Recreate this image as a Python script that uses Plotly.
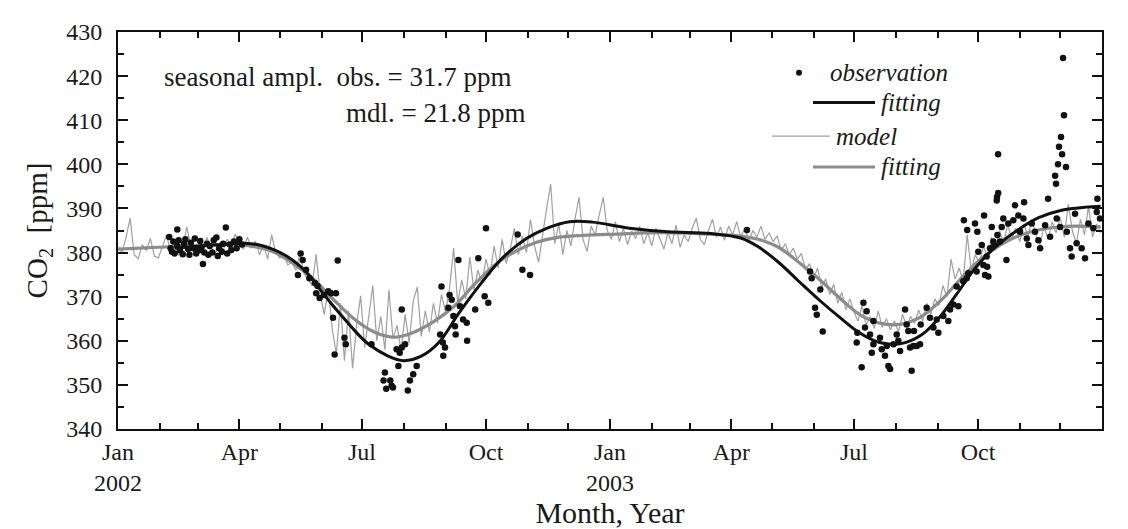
import pandas as pd
import plotly.graph_objects as go

BASE = pd.Timestamp("2002-01-01")

# ---------------- data (days since 2002-01-01, CO2 ppm) ----------------
model_vals = [
    # Jan 2002
    381.2, 380.0, 383.5, 387.8, 379.5, 378.6, 381.8, 380.4, 383.2, 379.2, 378.8,
    # Feb
    381.6, 384.0, 380.2, 382.8, 379.4, 381.0, 385.8, 381.5, 380.0,
    # Mar
    382.5, 380.8, 383.4, 381.2, 379.6, 382.0, 380.5, 383.0, 381.4, 384.2, 382.0,
    # Apr
    380.8, 383.5, 381.0, 382.6, 379.5, 381.8, 378.5, 384.0, 380.0, 378.8,
    # May
    379.5, 377.2, 377.8, 376.0, 379.8, 375.2, 374.0, 372.5, 379.6, 370.5,
    # Jun
    366.0, 371.8, 362.5, 357.0, 368.5, 355.5, 366.8, 353.8, 363.5, 370.2,
    # Jul
    358.5, 366.0, 372.5, 360.0, 365.5, 358.0, 371.5, 360.5, 363.5, 357.8,
    # Aug
    366.0, 359.5, 369.0, 372.2, 361.0, 366.8, 362.0, 368.5, 364.0, 370.5,
    # Sep
    366.5, 372.0, 381.0, 368.5, 373.8, 369.5, 379.0, 371.5, 376.0, 373.0,
    # Oct
    378.5, 374.8, 381.5, 376.5, 383.0, 377.5, 380.8, 385.5, 379.5, 383.8,
    # Nov
    380.0, 387.5, 381.5, 377.8, 384.5, 390.0, 395.5, 382.0, 386.5, 379.5,
    # Dec
    385.0, 381.5, 387.5, 392.5, 383.0, 380.2, 386.0, 384.0, 388.5, 392.5, 385.0,
    # Jan 2003
    383.0, 387.0, 382.5, 385.5, 381.8, 384.8, 383.2, 386.0, 382.0, 384.5,
    # Feb
    381.5, 385.5, 383.0, 380.8, 384.5, 382.0, 386.2, 381.2, 384.0,
    # Mar
    382.5, 385.5, 387.8, 383.0, 381.8, 385.0, 387.5, 383.5, 385.8, 382.8, 386.0,
    # Apr
    384.0, 387.0, 383.5, 385.5, 382.5, 385.0, 383.5, 386.0, 383.0, 384.5,
    # May
    382.5, 383.8, 380.5, 382.0, 379.5, 381.0, 378.5, 379.8, 376.0, 377.5,
    # Jun
    374.0, 376.5, 372.0, 374.0, 370.5, 372.8, 368.5, 371.0, 367.0, 369.5,
    # Jul
    366.5, 364.5, 368.0, 363.5, 365.5, 362.8, 366.8, 363.0, 365.0, 362.5,
    # Aug
    364.5, 362.0, 366.0, 363.2, 365.5, 364.0, 367.0, 364.5, 368.5, 366.0, 369.5,
    # Sep
    368.0, 372.5, 370.0, 378.5, 374.0, 376.5, 373.5, 384.0, 376.0, 379.5,
    # Oct
    377.5, 381.5, 379.0, 383.5, 380.5, 385.0, 382.0, 386.5, 383.0, 385.5,
    # Nov
    382.5, 386.5, 383.5, 387.5, 384.0, 381.8, 386.0, 383.0, 387.0, 384.5,
    # Dec
    388.0, 383.5, 391.0, 385.0, 382.0, 387.5, 384.0, 390.5, 383.5, 386.5, 384.5,
]
model_days = list(range(0, 3 * len(model_vals), 3))

obs_fit_days = [42, 61, 80, 94, 105, 116, 125, 134, 142, 149, 158, 169, 178, 186,
                200, 212, 225, 238, 253, 268, 285, 303, 318, 335, 352, 372, 383,
                408, 440, 462, 475, 490, 505, 520, 535, 550, 565, 580, 596, 610,
                622, 636, 650, 667, 683, 700, 718, 729]
obs_fit_vals = [381.0, 381.5, 381.9, 382.1, 381.7, 380.6, 379.2, 377.2, 374.8, 372.0,
                368.5, 364.6, 361.5, 359.2, 356.6, 355.5, 356.5, 359.6, 366.3, 372.5,
                378.7, 383.2, 385.5, 387.0, 386.9, 385.9, 385.4, 384.7, 384.3, 383.3,
                381.3, 377.8, 373.5, 369.3, 365.4, 361.8, 359.6, 359.3, 361.3, 365.5,
                370.5, 376.5, 381.0, 385.0, 387.9, 389.6, 390.3, 390.5]

mdl_fit_days = [0, 30, 55, 80, 100, 115, 130, 145, 160, 175, 190, 205, 220, 235,
                250, 265, 280, 295, 310, 325, 345, 370, 400, 430, 460, 475, 490,
                505, 520, 535, 550, 565, 580, 595, 610, 625, 640, 655, 670, 690,
                710, 729]
mdl_fit_vals = [380.8, 381.2, 381.6, 381.8, 381.4, 380.2, 377.5, 374.0, 369.3, 365.0,
                362.0, 360.8, 362.0, 364.5, 368.0, 373.0, 377.3, 380.3, 382.3, 383.4,
                383.9, 384.2, 384.5, 384.3, 383.8, 383.0, 381.2, 377.8, 374.0, 369.8,
                366.0, 364.0, 363.7, 365.3, 369.0, 374.0, 378.5, 381.8, 384.0, 385.5,
                386.0, 385.8]

obs_days = [
    # Feb-Apr 2002
    38, 39, 40, 41, 42, 44, 44, 45, 46, 48, 49, 50, 52, 53, 54, 56, 57, 58, 60, 61,
    62, 63, 64, 66, 67, 68, 70, 71, 73, 74, 75, 77, 78, 80, 81, 83, 84, 86, 88, 90, 92,
    # May-Jun 2002
    133.5, 135.5, 137, 139.5, 142, 146, 147, 148, 149.6, 153, 156, 158, 159.5, 160.7,
    161.7, 163, 168, 169,
    # Jul-Nov 2002
    188, 206.7, 210.5, 213, 209, 208, 198, 197, 202, 203, 204, 199, 216.6, 219, 221.6,
    215, 210.5, 240, 241, 242.6, 241.3, 246, 247.6, 248.8, 250, 250.5, 253.7, 256,
    258.7, 259, 265, 272, 274.7, 252.5, 267.3, 273, 296.5, 300, 305.7, 239, 245,
    # Apr 2003
    466.6,
    # Jun-Sep 2003
    513.4, 514.6, 517.1, 518.4, 521, 522.8, 548, 548.5, 553, 555.4, 554.2, 560.4, 557.9,
    560.4, 559.2, 551.7, 565.3, 566.6, 569, 570.3, 571.5, 572.8, 575.3, 577.7, 578.9,
    580.2, 583.9, 585.1, 586.3, 587.6, 590, 592.6, 595, 588.8, 599.9, 602.4, 604.9,
    607.4, 608.6, 612.3, 616, 617.3, 619.7, 623.4, 622.2, 627.1, 629.6, 630.8, 637,
    642, 643.2, 644.4, 646.9, 649.4, 590.5, 595.5,
    # Sep-Dec 2003
    627.5, 630, 635.8, 637.5, 642.5, 648.2, 655.6, 656.8, 660.5, 664.2, 667.9, 671.7,
    669.2, 674.2, 675.4, 677.9, 680.3, 682.8, 684.1, 687.8, 691.5, 696.4, 698.9, 703.9,
    706.3, 707.5, 711.2, 714.9, 717.4, 719.9, 723.6, 726.1, 728.5, 659.1, 644.8, 645.7,
    651.9, 665.5, 672.2, 638.2, 640.8, 649.9, 654.4, 652.4, 652.9, 652.1, 653.0, 690,
    695.2, 695.9, 697.4, 698.1, 699.6, 700.4, 703.3, 701.8, 701.1, 710, 726.6,
]
obs_vals = [
    # Feb-Apr 2002
    383.5, 381.0, 380.2, 382.5, 379.8, 381.5, 385.2, 382.8, 380.5, 379.6, 382.0, 383.0,
    380.8, 379.5, 382.2, 381.0, 383.2, 379.8, 380.5, 382.6, 381.2, 377.4, 380.0, 382.0,
    379.5, 381.5, 380.0, 382.8, 383.4, 379.2, 381.0, 380.2, 382.0, 385.7, 379.8, 381.8,
    380.6, 382.5, 381.0, 383.0, 381.8,
    # May-Jun 2002
    374.9, 379.8, 378.3, 376.1, 374.2, 373.1, 370.8, 372.4, 369.7, 370.4, 371.2, 370.8,
    365.2, 356.9, 370.8, 378.2, 360.7, 359.2,
    # Jul-Nov 2002
    359.2, 358.1, 358.5, 359.2, 357.3, 354.3, 352.8, 351.0, 351.0, 349.8, 349.4, 349.1,
    351.0, 352.4, 354.3, 348.7, 367.1, 372.3, 359.6, 358.5, 356.6, 370.4, 369.3, 365.6,
    363.3, 361.4, 367.8, 364.8, 364.1, 360.0, 367.1, 370.1, 368.6, 378.3, 378.7, 385.5,
    384.1, 376.1, 374.9, 361.4, 367.5,
    # Apr 2003
    385.1,
    # Jun-Sep 2003
    375.7, 374.2, 367.5, 365.9, 371.6, 362.1, 359.6, 361.8, 368.6, 366.7, 363.0, 364.5,
    361.4, 359.2, 357.3, 354.0, 360.7, 358.1, 356.6, 358.8, 354.3, 353.6, 359.2, 361.4,
    360.0, 357.7, 367.1, 363.7, 362.2, 358.5, 358.8, 358.8, 359.2, 353.2, 367.5, 365.2,
    363.0, 364.8, 361.8, 365.6, 364.5, 367.1, 368.2, 367.8, 372.3, 373.5, 374.2, 375.3,
    375.7, 377.2, 374.9, 379.1, 381.0, 382.5, 362.2, 363.7,
    # Sep-Dec 2003
    387.3, 385.1, 386.6, 384.7, 388.4, 385.8, 385.8, 387.7, 386.6, 387.3, 388.4, 387.7,
    384.7, 383.2, 381.7, 386.6, 384.7, 382.8, 381.0, 386.2, 383.6, 387.7, 385.8, 384.7,
    381.0, 379.1, 382.1, 381.0, 378.7, 386.6, 385.5, 389.2, 387.7, 378.3, 376.8, 374.6,
    391.8, 390.7, 391.4, 380.2, 381.7, 381.7, 382.5, 384.0, 402.3, 392.6, 393.5, 392.2,
    397.4, 395.6, 400.0, 404.0, 406.2, 402.3, 399.4, 411.1, 424.1, 388.8, 392.2,
]

tick_dates = ["2002-01-01", "2002-04-01", "2002-07-01", "2002-10-01",
              "2003-01-01", "2003-04-01", "2003-07-01", "2003-10-01"]
tick_text = ["Jan<br>2002", "Apr", "Jul", "Oct", "Jan<br>2003", "Apr", "Jul", "Oct"]


def to_dates(days):
    return BASE + pd.to_timedelta(days, unit="D")


FONT = "Liberation Serif"
INK = "#1a1a1a"

fig = go.Figure()
fig.add_trace(go.Scatter(x=to_dates(model_days), y=model_vals, mode="lines",
                         line=dict(color="#a0a0a0", width=1.2), hoverinfo="skip"))
fig.add_trace(go.Scatter(x=to_dates(mdl_fit_days), y=mdl_fit_vals, mode="lines",
                         line=dict(color="#8c8c8c", width=3.2, shape="spline", smoothing=1.0)))
fig.add_trace(go.Scatter(x=to_dates(obs_days), y=obs_vals, mode="markers",
                         marker=dict(color="#111111", size=6.5)))
fig.add_trace(go.Scatter(x=to_dates(obs_fit_days), y=obs_fit_vals, mode="lines",
                         line=dict(color="#111111", width=3, shape="spline", smoothing=1.0)))

# plot-area geometry in pixels (for legend placement)
L, R, T, B = 118, 1102, 32, 432


def px(x):
    return (x - L) / (R - L)


def py(y):
    return (B - y) / (B - T)


shapes = [
    dict(type="circle", xref="paper", yref="paper", xsizemode="pixel", ysizemode="pixel",
         xanchor=px(799), yanchor=py(73), x0=-3, x1=3, y0=-3, y1=3,
         fillcolor="#111111", line=dict(width=0)),
    dict(type="line", xref="paper", yref="paper", x0=px(813), x1=px(875), y0=py(103), y1=py(103),
         line=dict(color="#111111", width=3)),
    dict(type="line", xref="paper", yref="paper", x0=px(772), x1=px(830), y0=py(137), y1=py(137),
         line=dict(color="#a0a0a0", width=1.2)),
    dict(type="line", xref="paper", yref="paper", x0=px(813), x1=px(875), y0=py(168), y1=py(168),
         line=dict(color="#8c8c8c", width=3.2)),
]

leg_font = dict(family=FONT, size=25, color=INK)
txt_font = dict(family=FONT, size=27, color=INK)
annotations = [
    dict(text="<i>observation</i>", x=px(828), y=py(73), xanchor="left", yanchor="middle",
         font=leg_font),
    dict(text="<i>fitting</i>", x=px(879), y=py(103), xanchor="left", yanchor="middle",
         font=leg_font),
    dict(text="<i>model</i>", x=px(834), y=py(137), xanchor="left", yanchor="middle",
         font=leg_font),
    dict(text="<i>fitting</i>", x=px(879), y=py(168), xanchor="left", yanchor="middle",
         font=leg_font),
    dict(text="seasonal ampl.  obs. = 31.7 ppm", x=px(162), y=py(77),
         xanchor="left", yanchor="middle", font=txt_font),
    dict(text="mdl. = 21.8 ppm", x=px(527), y=py(114), xanchor="right", yanchor="middle",
         font=txt_font),
]
for a in annotations:
    a.update(xref="paper", yref="paper", showarrow=False)

axis_common = dict(showline=True, linecolor="#111111", linewidth=2, mirror="ticks",
                   ticks="inside", tickcolor="#111111", tickwidth=2, ticklen=10,
                   showgrid=False, zeroline=False)

fig.update_layout(
    width=1128, height=529,
    margin=dict(l=L, r=1128 - R, t=T, b=529 - B),
    paper_bgcolor="white", plot_bgcolor="white",
    showlegend=False,
    shapes=shapes, annotations=annotations,
    xaxis=dict(axis_common, type="date", range=["2002-01-01", "2004-01-01"],
               tickmode="array", tickvals=tick_dates, ticktext=tick_text,
               tickfont=dict(family=FONT, size=24, color=INK),
               minor=dict(ticks="inside", ticklen=6, tickwidth=2, tickcolor="#111111",
                          dtick="M1", tick0="2002-01-01", showgrid=False),
               title=dict(text="Month, Year", font=dict(family=FONT, size=30, color=INK),
                          standoff=0)),
    yaxis=dict(axis_common, range=[340, 430], dtick=10, tick0=340,
               tickfont=dict(family=FONT, size=24, color=INK), ticklabelstandoff=9,
               minor=dict(ticks="inside", ticklen=6, tickwidth=2, tickcolor="#111111",
                          dtick=5, showgrid=False),
               title=dict(text="CO<sub>2</sub>  [ppm]",
                          font=dict(family=FONT, size=29, color=INK), standoff=10)),
)

fig.write_html("out.html")
